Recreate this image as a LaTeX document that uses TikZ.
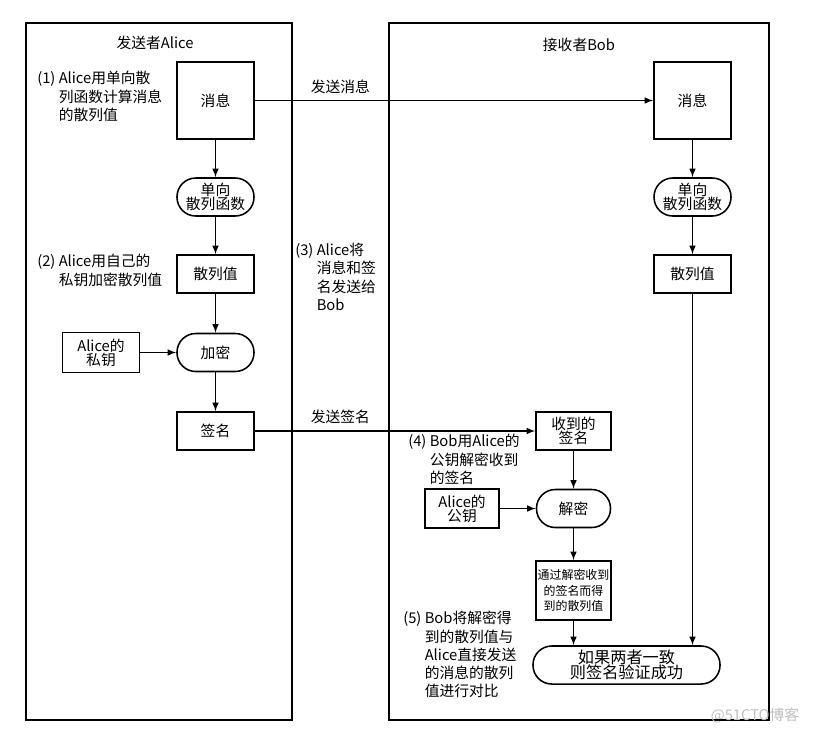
\documentclass[tikz,border=0pt]{standalone}
\usepackage{fontspec}
\setmainfont{Noto Sans CJK SC}
\usetikzlibrary{calc}
\usetikzlibrary{positioning}

\tikzset{
  panel/.style={draw, line width=1.3pt},
  msgbox/.style={draw, line width=1.1pt, inner sep=0pt, align=center, minimum width=1.925cm, minimum height=0.95cm},
  procbox/.style={msgbox, rounded corners=0.47cm},
  flow/.style={->, line width=1.1pt},
  note/.style={align=left, anchor=north west, inner sep=0pt},
}

\begin{document}
\begin{tikzpicture}[x=0.025cm, y=-0.025cm, >=latex, font=\fontsize{10.5}{13}\selectfont]
\useasboundingbox (0,0) rectangle (813,733);

% the two sides
\draw[panel] (26,23) rectangle (292,720);
\draw[panel] (389,23) rectangle (769,720);
\node (alice) at (155,43) {发送者Alice};
\node (bob) at (579,45) {接收者Bob};

% Alice
\node[msgbox, minimum height=1.925cm] (amsg) at (215.5,100.5) {消息};
\node[procbox] (ahash) at (215.5,197) {单向\\[-3pt]散列函数};
\node[msgbox] (aval) at (215.5,274) {散列值};
\node[procbox] (aenc) at (215.5,352.5) {加密};
\node[msgbox] (asig) at (215.5,431) {签名};
\node[msgbox, minimum height=1cm] (akey) at (101,352.5) {Alice的\\[-3pt]私钥};

\draw[flow] (amsg) -- (ahash);
\draw[flow] (ahash) -- (aval);
\draw[flow] (aval) -- (aenc);
\draw[flow] (aenc) -- (asig);
\draw[flow] (akey) -- (aenc);

\node[note] (step1) at (37,71) {(1) Alice用单向散\\\hphantom{(1) }列函数计算消息\\\hphantom{(1) }的散列值};
\node[note] (step2) at (37,254) {(2) Alice用自己的\\\hphantom{(2) }私钥加密散列值};

% Bob
\node[msgbox, minimum height=1.925cm] (bmsg) at (692.5,100.5) {消息};
\node[procbox] (bhash) at (692.5,197) {单向\\[-3pt]散列函数};
\node[msgbox] (bval) at (692.5,274) {散列值};
\node[msgbox, minimum width=1.875cm] (brecv) at (573.5,431) {收到的\\[-3pt]签名};
\node[procbox, minimum width=1.85cm] (bdec) at (573.5,508.5) {解密};
\node[msgbox, minimum width=1.85cm, minimum height=0.975cm] (bkey) at (462,508.5) {Alice的\\[-3pt]公钥};
\node[msgbox, minimum width=1.875cm, minimum height=1.475cm, font=\fontsize{8.5}{11}\selectfont] (bdval) at (573.5,590.5) {通过解密收到\\的签名而得\\到的散列值};
\node[procbox, minimum width=4.675cm, font=\fontsize{11.5}{13}\selectfont] (verify) at (626.5,665) {如果两者一致\\[-2pt]则签名验证成功};

\draw[flow] (bmsg) -- (bhash);
\draw[flow] (bhash) -- (bval);
\draw[flow] (bval.south) -- (bval.south |- verify.north);
\draw[flow] (brecv) -- (bdec);
\draw[flow] (bkey) -- (bdec);
\draw[flow] (bdec) -- (bdval);
\draw[flow] (bdval.south) -- (bdval.south |- verify.north);

\node[note] (step4) at (408,434) {(4) Bob用Alice的\\\hphantom{(4) }公钥解密收到\\\hphantom{(4) }的签名};
\node[note] (step5) at (403,611) {(5) Bob将解密得\\\hphantom{(5) }到的散列值与\\\hphantom{(5) }Alice直接发送\\\hphantom{(5) }的消息的散列\\\hphantom{(5) }值进行对比};

% sending
\draw[flow] (amsg) -- node[above=1pt, pos=0.215] (sendmsg) {发送消息} (bmsg);
\draw[flow] (asig) -- node[above=1pt, pos=0.305] (sendsig) {发送签名} (brecv);
\node[note] (step3) at (295,243) {(3) Alice将\\\hphantom{(3) }消息和签\\\hphantom{(3) }名发送给\\\hphantom{(3) }Bob};

\node[text=black!25] (mark) at (755,715) {@51CTO博客};
\end{tikzpicture}
\end{document}
